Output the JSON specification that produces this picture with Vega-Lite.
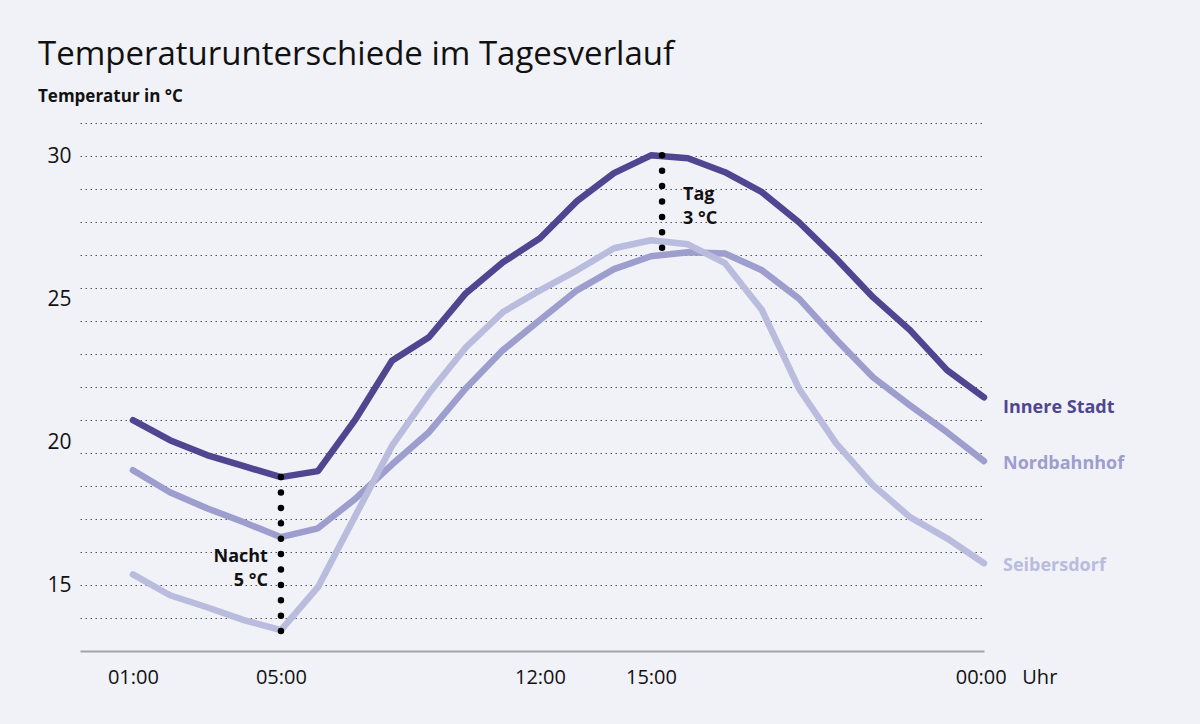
{
  "$schema": "https://vega.github.io/schema/vega-lite/v6.json",
  "width": 904,
  "height": 532,
  "autosize": {"type": "none"},
  "padding": {"left": 80, "top": 119, "right": 216, "bottom": 73},
  "background": "#f1f2f8",
  "config": {"view": {"stroke": null}, "font": "Open Sans"},
  "title": {
    "text": "Temperaturunterschiede im Tagesverlauf",
    "subtitle": "Temperatur in °C",
    "anchor": "start",
    "frame": "group",
    "dx": -42,
    "offset": 14,
    "font": "Open Sans",
    "fontSize": 33,
    "fontWeight": "normal",
    "color": "#111111",
    "subtitleFont": "Open Sans",
    "subtitleFontSize": 17,
    "subtitleFontWeight": "bold",
    "subtitleColor": "#111111",
    "subtitlePadding": 17
  },
  "datasets": {
    "temps": [
      {"hour": 1, "station": "Innere Stadt", "temp": 20.77},
      {"hour": 2, "station": "Innere Stadt", "temp": 20.07},
      {"hour": 3, "station": "Innere Stadt", "temp": 19.55},
      {"hour": 4, "station": "Innere Stadt", "temp": 19.16},
      {"hour": 5, "station": "Innere Stadt", "temp": 18.78},
      {"hour": 6, "station": "Innere Stadt", "temp": 18.99},
      {"hour": 7, "station": "Innere Stadt", "temp": 20.77},
      {"hour": 8, "station": "Innere Stadt", "temp": 22.85},
      {"hour": 9, "station": "Innere Stadt", "temp": 23.67},
      {"hour": 10, "station": "Innere Stadt", "temp": 25.21},
      {"hour": 11, "station": "Innere Stadt", "temp": 26.29},
      {"hour": 12, "station": "Innere Stadt", "temp": 27.13},
      {"hour": 13, "station": "Innere Stadt", "temp": 28.43},
      {"hour": 14, "station": "Innere Stadt", "temp": 29.41},
      {"hour": 15, "station": "Innere Stadt", "temp": 30.03},
      {"hour": 16, "station": "Innere Stadt", "temp": 29.93},
      {"hour": 17, "station": "Innere Stadt", "temp": 29.44},
      {"hour": 18, "station": "Innere Stadt", "temp": 28.74},
      {"hour": 19, "station": "Innere Stadt", "temp": 27.69},
      {"hour": 20, "station": "Innere Stadt", "temp": 26.43},
      {"hour": 21, "station": "Innere Stadt", "temp": 25.07},
      {"hour": 22, "station": "Innere Stadt", "temp": 23.92},
      {"hour": 23, "station": "Innere Stadt", "temp": 22.52},
      {"hour": 24, "station": "Innere Stadt", "temp": 21.57},
      {"hour": 1, "station": "Nordbahnhof", "temp": 19.02},
      {"hour": 2, "station": "Nordbahnhof", "temp": 18.25},
      {"hour": 3, "station": "Nordbahnhof", "temp": 17.69},
      {"hour": 4, "station": "Nordbahnhof", "temp": 17.2},
      {"hour": 5, "station": "Nordbahnhof", "temp": 16.68},
      {"hour": 6, "station": "Nordbahnhof", "temp": 16.99},
      {"hour": 7, "station": "Nordbahnhof", "temp": 18.01},
      {"hour": 8, "station": "Nordbahnhof", "temp": 19.22},
      {"hour": 9, "station": "Nordbahnhof", "temp": 20.35},
      {"hour": 10, "station": "Nordbahnhof", "temp": 21.89},
      {"hour": 11, "station": "Nordbahnhof", "temp": 23.22},
      {"hour": 12, "station": "Nordbahnhof", "temp": 24.27},
      {"hour": 13, "station": "Nordbahnhof", "temp": 25.31},
      {"hour": 14, "station": "Nordbahnhof", "temp": 26.05},
      {"hour": 15, "station": "Nordbahnhof", "temp": 26.5},
      {"hour": 16, "station": "Nordbahnhof", "temp": 26.64},
      {"hour": 17, "station": "Nordbahnhof", "temp": 26.6},
      {"hour": 18, "station": "Nordbahnhof", "temp": 26.01},
      {"hour": 19, "station": "Nordbahnhof", "temp": 25.02},
      {"hour": 20, "station": "Nordbahnhof", "temp": 23.6},
      {"hour": 21, "station": "Nordbahnhof", "temp": 22.27},
      {"hour": 22, "station": "Nordbahnhof", "temp": 21.29},
      {"hour": 23, "station": "Nordbahnhof", "temp": 20.35},
      {"hour": 24, "station": "Nordbahnhof", "temp": 19.34},
      {"hour": 1, "station": "Seibersdorf", "temp": 15.38},
      {"hour": 2, "station": "Seibersdorf", "temp": 14.65},
      {"hour": 3, "station": "Seibersdorf", "temp": 14.23},
      {"hour": 4, "station": "Seibersdorf", "temp": 13.78},
      {"hour": 5, "station": "Seibersdorf", "temp": 13.43},
      {"hour": 6, "station": "Seibersdorf", "temp": 14.93},
      {"hour": 7, "station": "Seibersdorf", "temp": 17.4},
      {"hour": 8, "station": "Seibersdorf", "temp": 19.87},
      {"hour": 9, "station": "Seibersdorf", "temp": 21.71},
      {"hour": 10, "station": "Seibersdorf", "temp": 23.32},
      {"hour": 11, "station": "Seibersdorf", "temp": 24.55},
      {"hour": 12, "station": "Seibersdorf", "temp": 25.31},
      {"hour": 13, "station": "Seibersdorf", "temp": 26.01},
      {"hour": 14, "station": "Seibersdorf", "temp": 26.78},
      {"hour": 15, "station": "Seibersdorf", "temp": 27.06},
      {"hour": 16, "station": "Seibersdorf", "temp": 26.92},
      {"hour": 17, "station": "Seibersdorf", "temp": 26.26},
      {"hour": 18, "station": "Seibersdorf", "temp": 24.62},
      {"hour": 19, "station": "Seibersdorf", "temp": 21.87},
      {"hour": 20, "station": "Seibersdorf", "temp": 19.97},
      {"hour": 21, "station": "Seibersdorf", "temp": 18.5},
      {"hour": 22, "station": "Seibersdorf", "temp": 17.38},
      {"hour": 23, "station": "Seibersdorf", "temp": 16.64},
      {"hour": 24, "station": "Seibersdorf", "temp": 15.77}
    ],
    "notes": [
      {"hour": 5, "from": 18.78, "to": 13.39, "label": ["Nacht", "5 °C"], "labelTemp": 15.98, "side": "left"},
      {"hour": 15.3, "from": 30.03, "to": 26.75, "label": ["Tag", "3 °C"], "labelTemp": 28.64, "side": "right"}
    ]
  },
  "resolve": {"axis": {"y": "independent"}},
  "layer": [
    {
      "data": {"name": "temps"},
      "mark": {"type": "line", "strokeWidth": 6.5, "strokeCap": "round", "strokeJoin": "round"},
      "encoding": {
        "x": {
          "field": "hour",
          "type": "quantitative",
          "scale": {"domain": [-0.43, 24], "nice": false, "zero": false},
          "axis": {
            "title": null,
            "values": [1, 5, 12, 15, 24],
            "labelExpr": "datum.value == 24 ? '00:00\u00a0\u00a0 Uhr' : (datum.value < 10 ? '0' : '') + datum.value + ':00'",
            "labelFlush": false,
            "labelOverlap": false,
            "labelOffset": {"condition": {"test": "datum.value == 24", "value": 22}, "value": 0},
            "labelFontSize": 20,
            "labelColor": "#111111",
            "labelPadding": 16,
            "ticks": false,
            "grid": false,
            "domainColor": "#a3a3a3",
            "domainWidth": 2
          }
        },
        "y": {
          "field": "temp",
          "type": "quantitative",
          "scale": {"domain": [12.7, 31.3], "nice": false, "zero": false},
          "axis": {
            "orient": "left",
            "title": null,
            "values": [31.1538, 30, 28.8462, 27.6923, 26.5385, 25.3846, 24.2308, 23.0769, 21.9231, 20.7692, 19.6154, 18.4615, 17.3077, 16.1538, 15, 13.8462],
            "labels": false,
            "ticks": false,
            "domain": false,
            "grid": true,
            "gridColor": "#555555",
            "gridDash": [1.5, 3.5],
            "gridWidth": 1
          }
        },
        "color": {
          "field": "station",
          "type": "nominal",
          "scale": {"domain": ["Innere Stadt", "Nordbahnhof", "Seibersdorf"], "range": ["#4f4691", "#9d9ecd", "#b9bcdd"]},
          "legend": null
        }
      }
    },
    {
      "data": {"name": "temps"},
      "transform": [{"filter": "datum.hour == 24 && datum.station != 'Innere Stadt'"}],
      "mark": {"type": "text", "align": "left", "baseline": "middle", "dx": 19, "dy": 3, "fontSize": 18, "fontWeight": "bold"},
      "encoding": {
        "x": {"field": "hour", "type": "quantitative"},
        "y": {
          "field": "temp",
          "type": "quantitative",
          "axis": {
            "orient": "left",
            "title": null,
            "values": [15, 20, 25, 30],
            "labelFontSize": 21,
            "labelColor": "#111111",
            "labelPadding": 9,
            "ticks": false,
            "domain": false,
            "grid": false
          }
        },
        "text": {"field": "station"},
        "color": {"field": "station", "type": "nominal", "legend": null}
      }
    },
    {
      "data": {"name": "temps"},
      "transform": [{"filter": "datum.hour == 24 && datum.station == 'Innere Stadt'"}],
      "mark": {"type": "text", "align": "left", "baseline": "middle", "dx": 19, "dy": 11, "fontSize": 18, "fontWeight": "bold"},
      "encoding": {
        "x": {"field": "hour", "type": "quantitative"},
        "y": {"field": "temp", "type": "quantitative", "axis": null},
        "text": {"field": "station"},
        "color": {"field": "station", "type": "nominal", "legend": null}
      }
    },
    {
      "data": {"name": "notes"},
      "mark": {"type": "rule", "color": "#000000", "strokeWidth": 6.5, "strokeCap": "round", "strokeDash": [0, 15.4]},
      "encoding": {
        "x": {"field": "hour", "type": "quantitative"},
        "y": {"field": "from", "type": "quantitative", "axis": null},
        "y2": {"field": "to"}
      }
    },
    {
      "data": {"name": "notes"},
      "transform": [{"filter": "datum.side == 'left'"}],
      "mark": {"type": "text", "align": "right", "baseline": "middle", "dx": -13, "fontSize": 18, "fontWeight": "bold", "lineHeight": 24, "color": "#111111"},
      "encoding": {
        "x": {"field": "hour", "type": "quantitative"},
        "y": {"field": "labelTemp", "type": "quantitative", "axis": null},
        "text": {"field": "label"}
      }
    },
    {
      "data": {"name": "notes"},
      "transform": [{"filter": "datum.side == 'right'"}],
      "mark": {"type": "text", "align": "left", "baseline": "middle", "dx": 21, "fontSize": 18, "fontWeight": "bold", "lineHeight": 24, "color": "#111111"},
      "encoding": {
        "x": {"field": "hour", "type": "quantitative"},
        "y": {"field": "labelTemp", "type": "quantitative", "axis": null},
        "text": {"field": "label"}
      }
    }
  ]
}
